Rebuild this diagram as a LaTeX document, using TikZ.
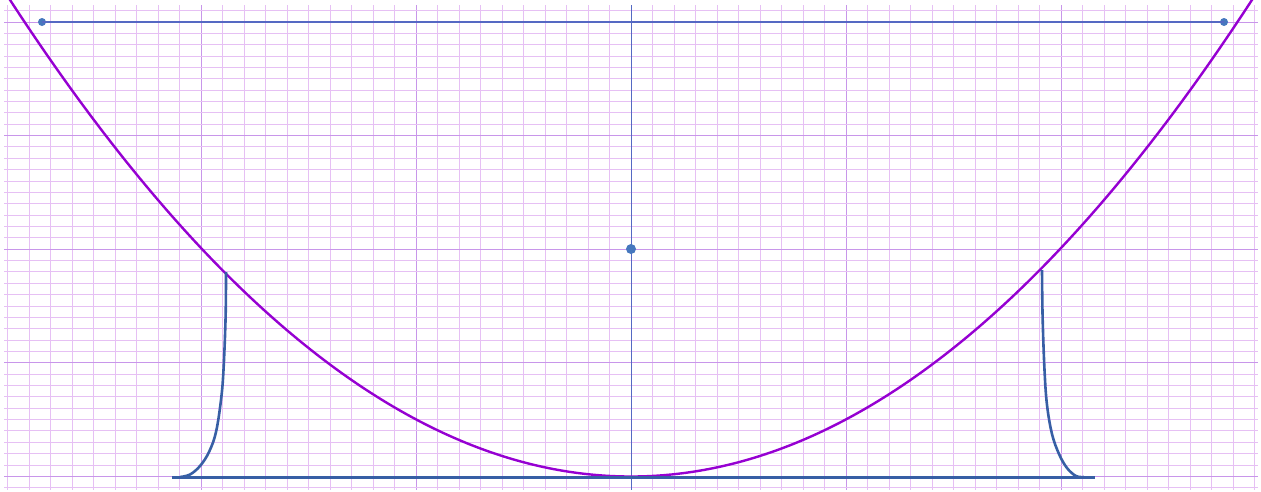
\documentclass[tikz,border=0pt]{standalone}
\definecolor{gridminor}{RGB}{230,192,244}
\definecolor{gridmajor}{RGB}{200,150,234}
\definecolor{parab}{RGB}{150,0,210}
\definecolor{curveblue}{RGB}{55,95,165}
\definecolor{axisblue}{RGB}{85,105,195}
\definecolor{dotblue}{RGB}{70,120,190}
\tikzset{
  minorline/.style={gridminor, line width=1pt},
  majorline/.style={gridmajor, line width=1pt},
  parabline/.style={parab, line width=2.4pt},
  bluecurve/.style={curveblue, line width=2.6pt},
  thinaxis/.style={axisblue, line width=1pt},
  dotmark/.style={circle, fill=dotblue, inner sep=0pt, minimum size=#1},
}
\begin{document}
\begin{tikzpicture}[x=1pt,y=-1pt]
\useasboundingbox[fill=white] (0,0) rectangle (1261,491);
% grid
\foreach \i in {0,...,58}{
  \pgfmathsetmacro{\gx}{7.5+21.5*\i}
  \pgfmathtruncatemacro{\m}{mod(\i,10)}
  \ifnum\m=9
    \draw[majorline] (\gx,5) -- (\gx,490);
  \else
    \draw[minorline] (\gx,5) -- (\gx,490);
  \fi
}
\foreach \j in {-1,...,41}{
  \pgfmathsetmacro{\gy}{22+11.36*\j}
  \pgfmathtruncatemacro{\m}{mod(\j+10,10)}
  \ifnum\m=0
    \draw[majorline] (4,\gy) -- (1258,\gy);
  \else
    \draw[minorline] (4,\gy) -- (1258,\gy);
  \fi
}
% vertical axis
\coordinate (vtop) at (631,5);
\coordinate (vbot) at (631,490);
\draw[thinaxis] (vtop) -- (vbot);
% top line with end dots
\node[dotmark=8pt] (tl) at (42,22) {};
\node[dotmark=8pt] (tr) at (1224,22) {};
\draw[axisblue, line width=1.5pt] (tl.center) -- (tr.center);
% parabola
\begin{scope}
\clip (0,0) rectangle (1261,491);
\draw[parabline] plot[domain=5:1257, samples=250, smooth] (\x, {476.5-0.00123*(\x-631)*(\x-631)});
\end{scope}
% baseline
\coordinate (bl) at (172,477);
\coordinate (br) at (1095,477);
\draw[bluecurve, line width=3pt] (bl) -- (br);
% side curves
\draw[bluecurve] plot[smooth, tension=0.6] coordinates {(226,272) (225.6,317) (223.5,370) (221,400) (216,432) (209,452) (200,466) (190,474.5) (180,477)};
\draw[bluecurve] plot[smooth, tension=0.6] coordinates {(1042,270) (1042.6,317) (1044.5,370) (1047,405) (1052,434) (1059,454) (1067,468) (1076,476) (1084,477)};
% centre dot
\node[dotmark=10pt] (cdot) at (631,249) {};
\end{tikzpicture}
\end{document}
